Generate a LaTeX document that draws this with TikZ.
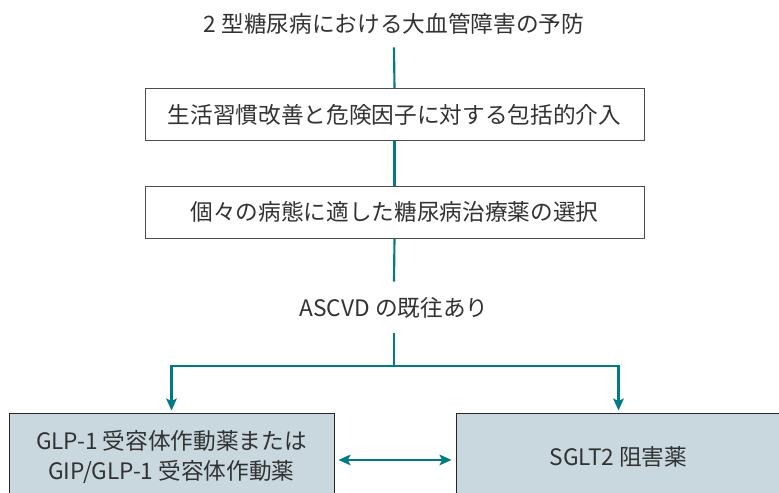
\documentclass[tikz,border=0pt]{standalone}
\usepackage{fontspec}
\setmainfont{Noto Sans CJK JP}
\usetikzlibrary{arrows.meta}
\definecolor{teal}{RGB}{0,123,132}
\definecolor{boxfill}{RGB}{201,216,223}
\definecolor{txt}{RGB}{50,50,50}
\begin{document}
\begin{tikzpicture}[x=0.75pt,y=-0.75pt,
  every node/.style={text=txt,font=\fontsize{17pt}{22.5pt}\selectfont,inner sep=0pt},
  topbox/.style={draw=black!70,line width=0.75pt,minimum width=374.25pt,minimum height=39pt},
  bottombox/.style={draw=black!85,fill=boxfill,line width=0.75pt,minimum width=243.75pt,minimum height=65.25pt,align=center},
  conn/.style={draw=teal,line width=1.6pt},
  arr/.style={conn,-{Stealth[length=9pt,width=8pt,inset=2pt]}}
]
\useasboundingbox (0,0) rectangle (779,493);
\node[minimum height=34.5pt] (title) at (394,24) {2 型糖尿病における大血管障害の予防};
\node[topbox] (b1) at (394.5,114.5) {生活習慣改善と危険因子に対する包括的介入};
\node[topbox] (b2) at (394.5,212) {個々の病態に適した糖尿病治療薬の選択};
\node[minimum height=38.25pt] (asc) at (394,307.5) {ASCVD の既往あり};
\coordinate (j) at (394,366);
\node[bottombox] (gl) at (171.5,456.5) {GLP-1 受容体作動薬または\\GIP/GLP-1 受容体作動薬};
\node[bottombox] (sg) at (618.5,456.5) {SGLT2 阻害薬};
\draw[conn] (title.south) -- (b1.north);
\draw[conn] (b1.south) -- (b2.north);
\draw[conn] (b2.south) -- (asc.north);
\draw[conn] (asc.south) -- (j);
\draw[arr,shorten >=1.5pt] (j) -| (gl.north);
\draw[arr,shorten >=1.5pt] (j) -| (sg.north);
\draw[arr,{Stealth[length=9pt,width=8pt,inset=2pt]}-{Stealth[length=9pt,width=8pt,inset=2pt]},shorten <=3pt,shorten >=3pt] ([yshift=-2.6pt]gl.east) -- ([yshift=-2.6pt]sg.west);
\end{tikzpicture}
\end{document}
